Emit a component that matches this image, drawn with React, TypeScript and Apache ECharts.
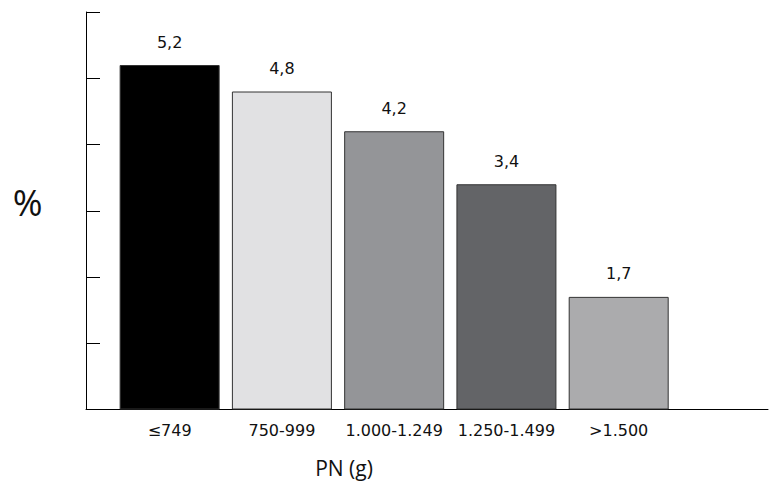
import React, { useEffect, useRef } from "react";
import * as echarts from "echarts";

const categories = ["≤749", "750-999", "1.000-1.249", "1.250-1.499", ">1.500"];
const values = [5.2, 4.8, 4.2, 3.4, 1.7];
const barColors = ["#000000", "#e1e1e3", "#949598", "#636467", "#ababad"];
const yTicks = [0, 1, 2, 3, 4, 5, 6];

export default function App() {
  const ref = useRef<HTMLDivElement>(null);
  useEffect(() => {
    if (!ref.current) return;
    const chart = echarts.init(ref.current, null, { renderer: "svg" });
    const idx = categories.map((_, i) => i);
    chart.setOption({
      animation: false,
      backgroundColor: "#ffffff",
      grid: { left: 86, right: 1, top: 12, bottom: 72.5, containLabel: false, outerBoundsMode: "none" },
      xAxis: {
        type: "value",
        min: -0.745,
        max: 5.33,
        axisLine: { show: true, onZero: false, lineStyle: { color: "#000", width: 1 } },
        axisTick: { show: false },
        splitLine: { show: false },
        axisLabel: {
          customValues: idx,
          formatter: (v: number) => categories[Math.round(v)] ?? "",
          color: "#111",
          fontFamily: "DejaVu Sans",
          fontSize: 16,
          margin: 13,
        },
      },
      yAxis: {
        type: "value",
        min: yTicks[0],
        max: yTicks[yTicks.length - 1],
        interval: 1,
        axisLine: { show: true, onZero: false, lineStyle: { color: "#000", width: 1 } },
        axisTick: { show: true, inside: true, length: 14, lineStyle: { color: "#000", width: 1 } },
        axisLabel: { show: false },
        splitLine: { show: false },
      },
      series: [
        {
          type: "bar",
          barWidth: 100,
          data: values.map((v, i) => ({
            value: [i, v],
            itemStyle: { color: barColors[i], borderColor: "#333", borderWidth: 1 },
          })),
          label: {
            show: true,
            position: "top",
            distance: 15,
            formatter: (p: any) => String(p.value[1]).replace(".", ","),
            color: "#111",
            fontFamily: "DejaVu Sans",
            fontSize: 16,
          },
        },
      ],
      graphic: [
        {
          type: "text",
          x: 27.5,
          y: 202,
          style: {
            text: "%",
            fontFamily: "Open Sans",
            fontSize: 36,
            fill: "#111",
            align: "center",
            verticalAlign: "middle",
          },
        },
        {
          type: "text",
          x: 344,
          y: 468,
          style: {
            text: "PN (g)",
            fontFamily: "Open Sans",
            fontSize: 21,
            fill: "#111",
            align: "center",
            verticalAlign: "middle",
          },
        },
      ],
    });
    return () => chart.dispose();
  }, []);
  return (
    <div
      ref={ref}
      style={{ position: "absolute", left: 0, top: 0, width: 769, height: 482 }}
    />
  );
}
